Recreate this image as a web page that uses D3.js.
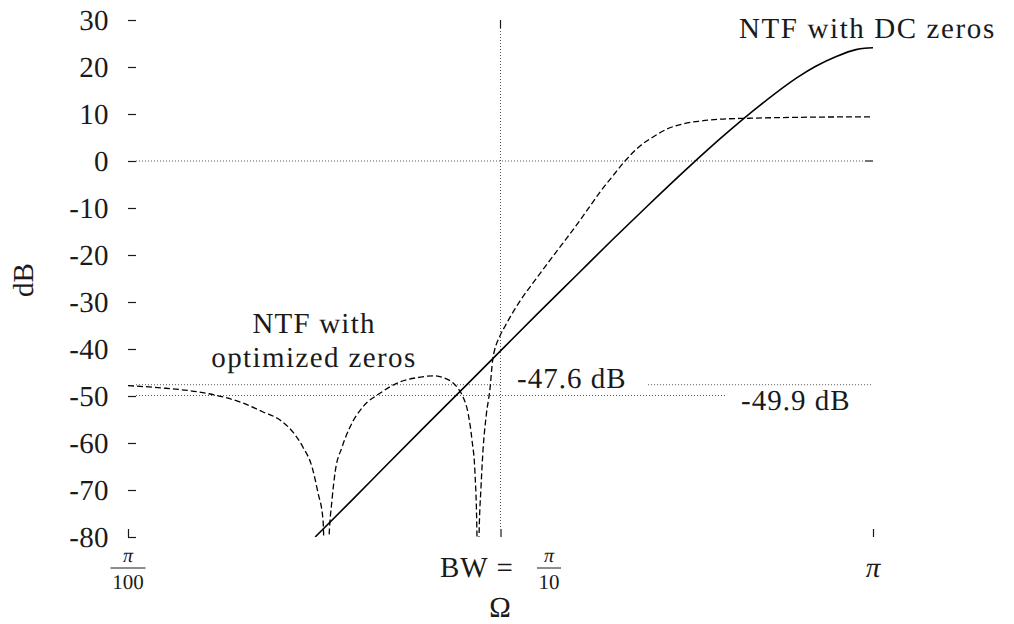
<!DOCTYPE html>
<html><head><meta charset="utf-8">
<script src="https://cdn.jsdelivr.net/npm/d3@7"></script>
</head><body style="margin:0;background:#fff">
<svg id="c" width="1014" height="624" font-family="Liberation Serif" text-rendering="geometricPrecision"></svg>
<script>
// ---- data (frequency as fraction of pi, magnitude in dB) ----
const yTicks = [30, 20, 10, 0, -10, -20, -30, -40, -50, -60, -70, -80];
const xTicks = [0.01, 0.1, 1];

// NTF with DC zeros (solid)
const dcFreq = [0.0318, 0.04, 0.05, 0.063, 0.08, 0.1, 0.125, 0.16, 0.2, 0.25, 0.32, 0.4, 0.5, 0.63, 0.7, 0.8, 0.9, 0.95, 1.0];
const dcDb   = [-80.0, -72.1, -64.3, -56.3, -48.1, -40.4, -32.7, -24.3, -16.7, -9.3, -1.3, 5.6, 12.0, 17.9, 20.1, 22.3, 23.7, 24.0, 24.1];

// NTF with optimized zeros (dashed)
const optFreq = [0.01, 0.01242, 0.01532, 0.01799, 0.02036, 0.02304, 0.02559, 0.02773, 0.0295, 0.03119, 0.03236, 0.03339, 0.0340,
  0.03464, 0.03529, 0.03595, 0.03754, 0.03945, 0.04274, 0.04748, 0.05373, 0.0608, 0.06589, 0.07185, 0.07642, 0.07932, 0.08181,
  0.08385, 0.08541, 0.08648, 0.08702, 0.08756, 0.08865, 0.08976, 0.09144, 0.09372, 0.0953, 0.0997, 0.1031, 0.1063, 0.1095, 0.1128, 0.1237,
  0.1358, 0.149, 0.1635, 0.1739, 0.185, 0.1992, 0.2159, 0.2369, 0.2567, 0.2799, 0.309, 0.3433, 0.3885, 0.4675, 0.6368, 1.0];
const optDb = [-47.8, -48.3, -49.1, -50.2, -51.5, -53.4, -55.1, -57.7, -60.9, -65.1, -70.6, -76.4, -100,
  -80.2, -72.1, -66.4, -60.9, -56.6, -52.3, -49.4, -47.0, -46.0, -45.7, -46.4, -48.1, -50.2, -53.6,
  -59.4, -66.4, -80.2, -100, -80.2, -69.4, -61.5, -54.5, -48.4, -42.3, -37.2, -35.0, -33.1, -31.4, -29.8, -25.4,
  -21.1, -16.9, -12.6, -9.6, -6.6, -3.4, 0.0, 3.2, 5.1, 6.8, 7.9, 8.5, 8.9, 9.1, 9.3, 9.4];

// reference levels: value, label, segments [from,to] in fraction of pi
const levelValues = [-47.6, -49.9];
const levelLabels = ["-47.6 dB", "-49.9 dB"];
const levelSegments = [[[0.01, 0.1], [0.249, 1]], [[0.01, 0.4006]]];

// ---- drawing ----
const svg = d3.select("#c");
const x = d3.scaleLog().domain([0.01, 1]).range([128, 873]);
const y = d3.scaleLinear().domain([-80, 30]).range([537, 20]);
const TK = 8;
const FS = 29;
const FONT = "Liberation Serif";
const INK = "#1a1a1a";

svg.append("defs").append("clipPath").attr("id", "clip")
  .append("rect").attr("x", x(0.01)).attr("y", y(30)).attr("width", x(1) - x(0.01)).attr("height", y(-80) - y(30));

// y axis
const ya = svg.append("g").attr("transform", `translate(${x(0.01)},0)`)
  .call(d3.axisLeft(y).tickValues(yTicks).tickSize(-TK).tickPadding(19).tickFormat(d => String(d)));
ya.attr("font-family", FONT).attr("font-size", FS);
ya.select(".domain").remove();
ya.selectAll(".tick line").attr("stroke", INK).attr("stroke-width", 1.2);
ya.selectAll(".tick text").attr("font-family", FONT).attr("font-size", FS).attr("fill", INK)
  .attr("letter-spacing", 0.4).attr("text-rendering", "geometricPrecision");

// x axis ticks
const xa = svg.append("g").attr("transform", `translate(0,${y(-80)})`)
  .call(d3.axisBottom(x).tickValues(xTicks).tickSize(-TK).tickFormat(""));
xa.select(".domain").remove();
xa.selectAll(".tick line").attr("stroke", INK).attr("stroke-width", 1.2);

// dotted guides
function dline(x1, y1, x2, y2) {
  return svg.append("line").attr("x1", x1).attr("y1", y1).attr("x2", x2).attr("y2", y2)
    .attr("stroke", "#555").attr("stroke-width", 1).attr("stroke-dasharray", "1,2");
}
dline(x(0.01) + TK, y(0), x(1) - TK, y(0));
svg.append("line").attr("x1", x(1) - TK).attr("x2", x(1)).attr("y1", y(0)).attr("y2", y(0)).attr("stroke", INK).attr("stroke-width", 1.2);
dline(x(0.1), y(30) + TK, x(0.1), y(-80) - TK);
svg.append("line").attr("x1", x(0.1)).attr("x2", x(0.1)).attr("y1", y(30)).attr("y2", y(30) + TK).attr("stroke", INK).attr("stroke-width", 1.2);

levelValues.forEach((v, i) => {
  levelSegments[i].forEach(([a, b]) => dline(a === 0.01 ? x(a) + TK : x(a), y(v), x(b), y(v)));
});

// curves
const line = d3.line().x(d => x(d[0])).y(d => y(d[1])).curve(d3.curveMonotoneX);
const g = svg.append("g").attr("clip-path", "url(#clip)");
g.append("path").datum(dcFreq.map((f, i) => [f, dcDb[i]]))
  .attr("d", line).attr("fill", "none").attr("stroke", "#000").attr("stroke-width", 1.6);
g.append("path").datum(optFreq.map((f, i) => [f, optDb[i]]))
  .attr("d", line).attr("fill", "none").attr("stroke", "#000").attr("stroke-width", 1.3).attr("stroke-dasharray", "6,3");

// text helpers
function txt(s, px, py, opts = {}) {
  return svg.append("text").attr("x", px).attr("y", py).attr("font-size", opts.size || FS)
    .attr("font-family", FONT).attr("fill", INK).attr("text-rendering", "geometricPrecision")
    .attr("text-anchor", opts.anchor || "start").text(s);
}

// labels
txt("NTF with DC zeros", 739, 38).attr("letter-spacing", 1.6);
txt("NTF with", 314, 333, {anchor: "middle"}).attr("letter-spacing", 1.2);
txt("optimized zeros", 314, 367, {anchor: "middle"}).attr("letter-spacing", 1.4);
txt(levelLabels[0], 517, 388).attr("letter-spacing", 1);
txt(levelLabels[1], 741, 410).attr("letter-spacing", 1);

// axis titles
svg.append("text").attr("transform", "translate(33,280) rotate(-90)").attr("text-anchor", "middle")
  .attr("font-family", FONT).attr("fill", INK).attr("text-rendering", "geometricPrecision")
  .attr("font-size", FS).text("dB");
txt("Ω", 500, 617, {anchor: "middle"});

// x tick labels
function frac(cx, num, den) {
  txt(num, cx, 562, {anchor: "middle", size: 20}).attr("font-style", "italic");
  const w = den.length * 11 + 2;
  svg.append("line").attr("x1", cx - w / 2).attr("x2", cx + w / 2).attr("y1", 568).attr("y2", 568)
    .attr("stroke", INK).attr("stroke-width", 1);
  txt(den, cx, 589, {anchor: "middle", size: 21});
}
frac(x(0.01), "π", "100");
txt("BW =", 440, 577).attr("letter-spacing", 1);
frac(549, "π", "10");
txt("π", x(1), 577, {anchor: "middle"}).attr("font-style", "italic");
</script>
</body></html>
